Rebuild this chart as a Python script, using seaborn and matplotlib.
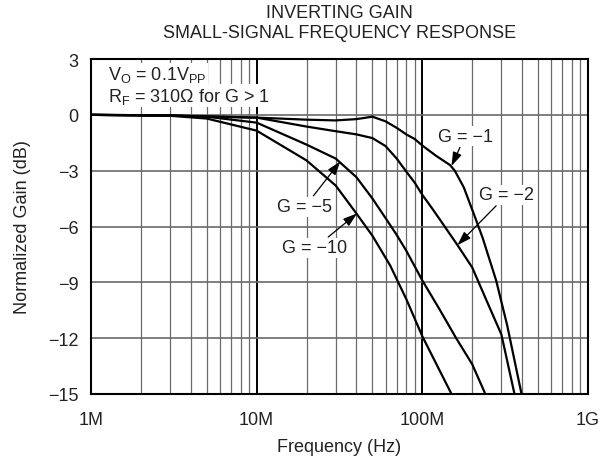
import numpy as np
import pandas as pd
import matplotlib
matplotlib.use("Agg")
import matplotlib.pyplot as plt
from matplotlib.ticker import LogLocator, NullFormatter
import seaborn as sns

# Werte (Frequenz in Hz, Verstärkung in dB)
freq_g1 = [1e6, 3e6, 10e6, 20e6, 30e6, 40e6, 50e6, 60e6, 70e6, 80e6, 90e6, 100e6, 121e6, 147e6,
           157e6, 178e6, 206e6, 231e6, 279e6, 325e6, 397e6]
gain_g1 = [0.0, -0.05, -0.15, -0.26, -0.3, -0.23, -0.1, -0.35, -0.7, -1.05, -1.3, -1.65, -2.2, -2.7,
           -3.0, -3.9, -5.4, -6.6, -8.9, -11.3, -15.0]

freq_g2 = [1e6, 3e6, 10e6, 20e6, 30e6, 40e6, 50e6, 60e6, 70e6, 80e6, 90e6, 100e6, 114e6, 127e6,
           163e6, 200e6, 242e6, 300e6, 360e6]
gain_g2 = [0.0, -0.03, -0.15, -0.63, -0.88, -1.05, -1.25, -1.68, -2.35, -3.05, -3.65, -4.3, -5.0, -5.6,
           -7.0, -8.2, -9.9, -11.8, -15.0]

freq_g5 = [1e6, 3e6, 5e6, 10e6, 20e6, 30e6, 40e6, 50e6, 60e6, 70e6, 80e6, 100e6, 127e6, 160e6, 200e6, 240e6]
gain_g5 = [0.0, -0.03, -0.1, -0.42, -1.6, -2.35, -3.35, -4.5, -5.55, -6.45, -7.3, -8.9, -10.45, -12.0, -13.4, -15.0]

freq_g10 = [1e6, 3e6, 5e6, 10e6, 20e6, 30e6, 40e6, 50e6, 64e6, 80e6, 100e6, 150e6]
gain_g10 = [0.0, -0.05, -0.2, -0.85, -2.45, -3.8, -5.3, -6.5, -8.1, -9.9, -11.9, -15.0]

series_names = ["G = −1", "G = −2", "G = −5", "G = −10"]

yticks = [3, 0, -3, -6, -9, -12, -15]
xticks = [1e6, 1e7, 1e8, 1e9]
xtick_labels = ["1M", "10M", "100M", "1G"]

df = pd.concat([
    pd.DataFrame({"freq": freq_g1, "gain": gain_g1, "setting": series_names[0]}),
    pd.DataFrame({"freq": freq_g2, "gain": gain_g2, "setting": series_names[1]}),
    pd.DataFrame({"freq": freq_g5, "gain": gain_g5, "setting": series_names[2]}),
    pd.DataFrame({"freq": freq_g10, "gain": gain_g10, "setting": series_names[3]}),
], ignore_index=True)

sns.set_theme(style="white")
plt.rcParams["font.family"] = ["Liberation Sans", "DejaVu Sans"]
plt.rcParams["mathtext.fontset"] = "custom"
plt.rcParams["mathtext.rm"] = "Liberation Sans"
FS = 13

fig = plt.figure(figsize=(6.1, 4.64), dpi=100)
ax = fig.add_axes([91 / 610, 69 / 464, 497 / 610, 335 / 464])

sns.lineplot(data=df, x="freq", y="gain", hue="setting",
             palette={n: "black" for n in series_names},
             estimator=None, sort=False, legend=False, lw=1.6, ax=ax, zorder=4)

ax.set_xscale("log")
ax.set_xlim(1e6, 1e9)
ax.set_ylim(-15, 3)
ax.set_xticks(xticks, labels=xtick_labels)
ax.set_yticks(yticks)
ax.set_yticklabels([str(v).replace("-", "\u2212") for v in yticks])
ax.xaxis.set_minor_locator(LogLocator(base=10, subs=np.arange(2, 10)))
ax.xaxis.set_minor_formatter(NullFormatter())
ax.tick_params(which="both", length=0, labelsize=FS, colors="#222222")
ax.tick_params(axis="y", pad=9)
ax.tick_params(axis="x", pad=12)

# Gitter: Dekaden schwarz, Zwischenlinien grau
ax.set_axisbelow(True)
ax.grid(which="major", axis="x", color="black", lw=1.4)
ax.grid(which="minor", axis="x", color="#6a6a6a", lw=0.9)
ax.grid(which="major", axis="y", color="#6a6a6a", lw=1.2)

for sp in ax.spines.values():
    sp.set_color("black")
    sp.set_linewidth(1.5)
    sp.set_visible(True)

ax.set_xlabel("Frequency (Hz)", fontsize=FS, color="#222222")
ax.set_ylabel("Normalized Gain (dB)", fontsize=FS, color="#222222")
ax.xaxis.set_label_coords(0.5, -0.13)
ax.yaxis.set_label_coords(-0.12, 0.5)

fig.text(0.5566, 1 - 13 / 464, "INVERTING GAIN", ha="center", va="center", fontsize=FS, color="#222222")
fig.text(0.5566, 1 - 33 / 464, "SMALL-SIGNAL FREQUENCY RESPONSE", ha="center", va="center",
         fontsize=FS, color="#222222")

box = dict(boxstyle="square,pad=0.08", fc="white", ec="none")
ax.text(0.035, 0.955, r"V$_\mathregular{O}$ = 0.1V$_\mathregular{PP}$", transform=ax.transAxes,
        ha="left", va="center", fontsize=FS, color="#222222", bbox=box, zorder=3)
ax.text(0.035, 0.89, r"R$_\mathregular{F}$ = 310Ω for G > 1", transform=ax.transAxes,
        ha="left", va="center", fontsize=FS, color="#222222", bbox=box, zorder=3)

arrow = dict(arrowstyle="-|>,head_length=0.6,head_width=0.2", color="black", lw=0.9,
             mutation_scale=14, shrinkA=1, shrinkB=0)
# (beschriftung, text-position, pfeilspitze)
labels = [
    ("G = −1", (181e6, -1.15), (150e6, -2.75)),
    ("G = −2", (324e6, -4.3), (163e6, -7.0)),
    ("G = −5", (19.5e6, -4.95), (32e6, -2.5)),
    ("G = −10", (22.5e6, -7.15), (40.3e6, -5.3)),
]
for txt, pos, tip in labels:
    ax.annotate(txt, xy=tip, xytext=pos, ha="center", va="center", fontsize=FS,
                color="#222222", bbox=box, arrowprops=arrow, zorder=5)

fig.savefig("out.png", dpi=100)
plt.close(fig)
